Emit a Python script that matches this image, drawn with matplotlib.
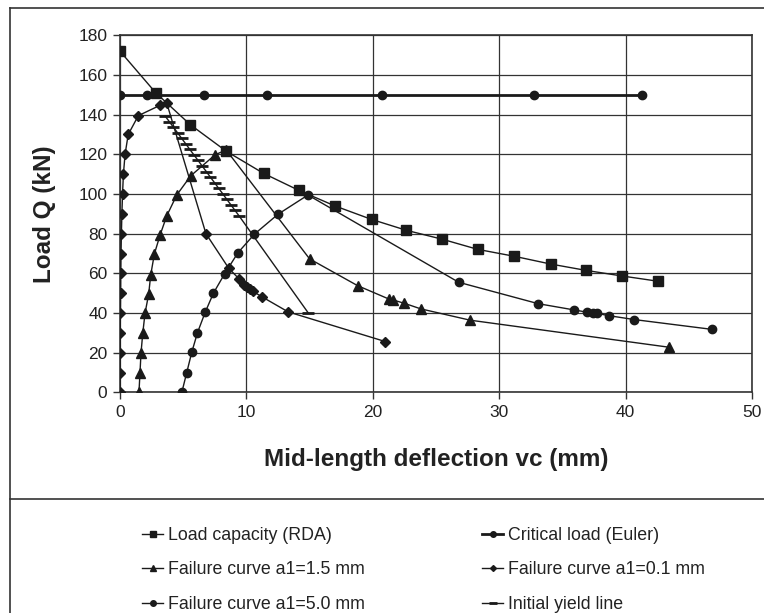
import matplotlib.pyplot as plt
from matplotlib.lines import Line2D

plt.rcParams["font.family"] = ["Liberation Sans", "DejaVu Sans"]

# Load capacity (RDA)
rda_x = [0.0, 2.83, 5.55, 8.4, 11.36, 14.16, 17.0, 19.9, 22.66, 25.5, 28.3, 31.2, 34.07, 36.87, 39.7, 42.6]
rda_y = [172, 151, 135, 121.6, 110.4, 101.8, 94, 87.2, 81.7, 77.2, 72.1, 68.6, 64.7, 61.5, 58.7, 56.0]

# Critical load (Euler)
euler_x = [0.0, 2.14, 6.66, 11.6, 20.7, 32.75, 41.3]
euler_y = [150, 150, 150, 150, 150, 150, 150]

# Failure curve a1=1.5 mm
a15_x = [1.5, 1.58, 1.66, 1.8, 1.98, 2.27, 2.43, 2.72, 3.17, 3.7, 4.49, 5.6, 7.53, 8.4,
         15.0, 18.8, 21.26, 21.6, 22.5, 23.8, 27.7, 43.4]
a15_y = [0, 9.7, 19.7, 29.8, 39.9, 49.6, 59.2, 69.8, 79.3, 89, 99.5, 109.2, 119.8, 122.2,
         67.3, 53.8, 47.1, 46.6, 44.9, 42.1, 36.4, 22.8]

# Failure curve a1=0.1 mm
a01_x = [0.0, 0.01, 0.01, 0.02, 0.03, 0.05, 0.06, 0.08, 0.11, 0.15, 0.2, 0.27, 0.4, 0.65, 1.45,
         3.2, 3.7, 6.8, 8.6, 9.45, 9.8, 10.05, 10.3, 10.5, 11.2, 13.3, 21.0]
a01_y = [0, 10, 20, 30, 40, 50, 60, 70, 80, 90, 100, 110, 120, 130, 139.5,
         144.8, 145.8, 80, 62.6, 57, 54, 53, 52, 51, 48.3, 40.6, 25.6]

# Failure curve a1=5.0 mm
a50_x = [4.89, 5.28, 5.68, 6.13, 6.74, 7.39, 8.27, 9.33, 10.64, 12.5, 14.87,
         26.8, 33.1, 35.9, 36.98, 37.4, 37.7, 38.65, 40.7, 46.8]
a50_y = [0, 10, 20.3, 30.1, 40.4, 50, 59.7, 70.4, 79.8, 89.8, 99.5,
         55.5, 44.7, 41.6, 40.4, 39.9, 39.9, 38.7, 36.7, 31.8]

# Initial yield line
yield_x = [3.57, 3.90, 4.22, 4.55, 4.87, 5.20, 5.52, 5.85, 6.18, 6.50, 6.83, 7.15, 7.48, 7.80,
           8.13, 8.45, 8.78, 9.10, 9.43, 14.9]
yield_y = [139.3, 136.5, 133.7, 130.9, 128.1, 125.3, 122.5, 119.7, 116.9, 114.1, 111.3, 108.5,
           105.7, 102.9, 100.1, 97.3, 94.5, 91.7, 88.9, 40.0]

labels = ["Load capacity (RDA)", "Critical load (Euler)", "Failure curve a1=1.5 mm",
          "Failure curve a1=0.1 mm", "Failure curve a1=5.0 mm", "Initial yield line"]

fig = plt.figure(figsize=(7.64, 6.13), dpi=100)
ax = fig.add_axes([120 / 764, 1 - 392.4 / 613, 632 / 764, 357.1 / 613])

k = "#1a1a1a"
ax.plot(rda_x, rda_y, color=k, lw=1, marker="s", ms=6.5, zorder=3)
ax.plot(euler_x, euler_y, color=k, lw=2, marker="o", ms=6, zorder=3)
ax.plot(a15_x, a15_y, color=k, lw=1, marker="^", ms=7, zorder=3)
ax.plot(a01_x, a01_y, color=k, lw=1, marker="D", ms=5.5, zorder=3)
ax.plot(a50_x, a50_y, color=k, lw=1, marker="o", ms=6, zorder=3)
ax.plot(yield_x, yield_y, color=k, lw=1, marker="_", ms=9, mew=2, zorder=3)

ax.set_xlim(0, 50)
ax.set_ylim(0, 180)
ax.set_xticks(range(0, 51, 10))
ax.set_yticks(range(0, 181, 20))
ax.grid(True, color="#333333", lw=0.9)
ax.set_axisbelow(True)
for s in ax.spines.values():
    s.set_color("#333333")
    s.set_linewidth(1.2)
ax.tick_params(direction="out", length=5, width=1, color="#333333",
               labelsize=12.5, labelcolor="#222222", pad=4)

ax.set_xlabel("Mid-length deflection vc (mm)", fontsize=17.5, fontweight="bold",
              color="#222222", labelpad=20)
ax.set_ylabel("Load Q (kN)", fontsize=17.5, fontweight="bold", color="#222222", labelpad=16)

# chart frame and legend separator
fig.add_artist(Line2D([10 / 764, 10 / 764], [0, 1 - 8 / 613], color="#333333", lw=1.2))
fig.add_artist(Line2D([10 / 764, 1], [1 - 8 / 613, 1 - 8 / 613], color="#333333", lw=1.2))
fig.add_artist(Line2D([10 / 764, 1], [1 - 499 / 613, 1 - 499 / 613], color="#333333", lw=1.2))

handles = [
    Line2D([], [], color=k, lw=1, marker="s", ms=4),
    Line2D([], [], color=k, lw=1, marker="^", ms=4.5),
    Line2D([], [], color=k, lw=1, marker="o", ms=4),
    Line2D([], [], color=k, lw=2, marker="o", ms=4),
    Line2D([], [], color=k, lw=1, marker="D", ms=3),
    Line2D([], [], color=k, lw=1, marker="_", ms=6, mew=2),
]
order = [labels[0], labels[2], labels[4], labels[1], labels[3], labels[5]]
fig.legend(handles, order, ncol=2, loc="upper left", bbox_to_anchor=(142 / 764, 1 - 527 / 613),
           frameon=False, fontsize=12.8, handlelength=1.2, handletextpad=0.25,
           columnspacing=6.6, labelspacing=0.98, borderaxespad=0, borderpad=0,
           labelcolor="#222222")

fig.savefig("out.png", dpi=100)
